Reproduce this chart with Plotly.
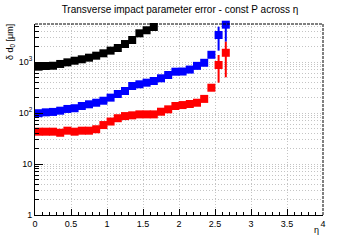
import plotly.graph_objects as go

eta = [0.05, 0.15, 0.25, 0.35, 0.45, 0.55, 0.65, 0.75, 0.85, 0.95,
       1.05, 1.15, 1.25, 1.35, 1.45, 1.55, 1.65, 1.75, 1.85, 1.95,
       2.05, 2.15, 2.25, 2.35, 2.45, 2.55, 2.65]

black_vals = [810, 835, 845, 915, 985, 1060, 1130, 1215, 1330, 1480,
              1670, 1880, 2250, 2700, 3650, 4190, 4860]
blue_vals = [99, 103, 105, 111, 120, 124, 137, 148, 159, 174,
             200, 236, 270, 338, 365, 393, 424, 479, 556, 645,
             650, 710, 840, 965, 1385, 3380, 5390]
red_vals = [43, 43, 43, 41, 45, 43, 45, 45, 48, 58,
            68, 79, 87, 90, 94, 94, 94, 106, 118, 137,
            143, 150, 159, 189, 313, 873, 1516]

blue_err_up = [0] * 25 + [1540, 2900]
blue_err_dn = [0] * 25 + [1710, 2890]
red_err_up = [0] * 25 + [500, 984]
red_err_dn = [0] * 25 + [480, 1015]

x_tickvals = [0, 0.5, 1, 1.5, 2, 2.5, 3, 3.5, 4]
x_ticktext = ["0", "0.5", "1", "1.5", "2", "2.5", "3", "3.5", "4"]
y_tickvals = [1, 10, 100, 1000]
y_ticktext = ["1", "10", "10<sup>2</sup>", "10<sup>3</sup>"]

title_text = "Transverse impact parameter error - const P across η"
ylabel = "δ d<sub>0</sub> [μm]"
xlabel = "η"

FONT = "Liberation Sans, Arial, Helvetica, sans-serif"
GRID = "#c4c4c4"
GDASH = "1px,2px"
MSIZE = 8

fig = go.Figure()
fig.add_trace(go.Scatter(
    x=eta[:len(black_vals)], y=black_vals, mode="markers",
    marker=dict(symbol="square", size=MSIZE, color="#000000", line=dict(width=0)),
    cliponaxis=False, showlegend=False))
fig.add_trace(go.Scatter(
    x=eta, y=blue_vals, mode="markers",
    marker=dict(symbol="square", size=MSIZE, color="#0000ff", line=dict(width=0)),
    error_y=dict(type="data", symmetric=False, array=blue_err_up, arrayminus=blue_err_dn,
                 color="#0000ff", thickness=2, width=0),
    cliponaxis=False, showlegend=False))
fig.add_trace(go.Scatter(
    x=eta, y=red_vals, mode="markers",
    marker=dict(symbol="square", size=MSIZE, color="#ff0000", line=dict(width=0)),
    error_y=dict(type="data", symmetric=False, array=red_err_up, arrayminus=red_err_dn,
                 color="#ff0000", thickness=2, width=0),
    cliponaxis=False, showlegend=False))

minor_y = [m * 10 ** d for d in range(0, 4) for m in range(2, 10)]
minor_y = [v for v in minor_y if v < 5560]

fig.update_layout(
    width=360, height=240,
    margin=dict(l=35, r=37, t=24, b=25, pad=0),
    paper_bgcolor="white", plot_bgcolor="white",
    font=dict(family=FONT, size=9, color="black"),
    title=dict(text=title_text, x=0.5, xanchor="center", y=1 - 9 / 240, yanchor="middle",
               font=dict(size=10, family=FONT, color="black")),
    xaxis=dict(range=[0, 4], tickvals=x_tickvals, ticktext=x_ticktext,
               ticks="inside", ticklen=6, tickcolor="black", tickwidth=1,
               showline=True, linecolor="black", linewidth=1, mirror=False,
               showgrid=True, gridcolor=GRID, griddash=GDASH, gridwidth=1,
               zeroline=False, tickfont=dict(size=9),
               minor=dict(dtick=0.1, ticks="inside", ticklen=3, tickcolor="black", showgrid=False)),
    yaxis=dict(type="log", range=[0, 3.745], tickvals=y_tickvals, ticktext=y_ticktext,
               ticks="inside", ticklen=8, tickcolor="black", tickwidth=1,
               showline=True, linecolor="black", linewidth=1, mirror=False,
               showgrid=True, gridcolor=GRID, griddash=GDASH, gridwidth=1,
               zeroline=False, tickfont=dict(size=9),
               minor=dict(tickvals=minor_y, ticks="inside", ticklen=4, tickcolor="black",
                          showgrid=True, gridcolor=GRID, griddash=GDASH, gridwidth=1)),
    shapes=[
        dict(type="line", xref="paper", yref="paper", x0=0, x1=1, y0=1, y1=1,
             line=dict(color="black", width=1, dash="3px,1px")),
        dict(type="line", xref="paper", yref="paper", x0=1, x1=1, y0=0, y1=1,
             line=dict(color="black", width=1, dash="3px,1px")),
    ],
    annotations=[
        dict(text=ylabel, xref="paper", yref="paper", x=-25 / 288, y=1.0 + 2 / 191,
             xanchor="center", yanchor="top", textangle=-90, showarrow=False,
             font=dict(size=9)),
        dict(text=xlabel, xref="paper", yref="paper", x=1.0 - 2 / 288, y=-8 / 191,
             xanchor="right", yanchor="top", showarrow=False, font=dict(size=9)),
    ],
)

fig.write_html("out.html")
